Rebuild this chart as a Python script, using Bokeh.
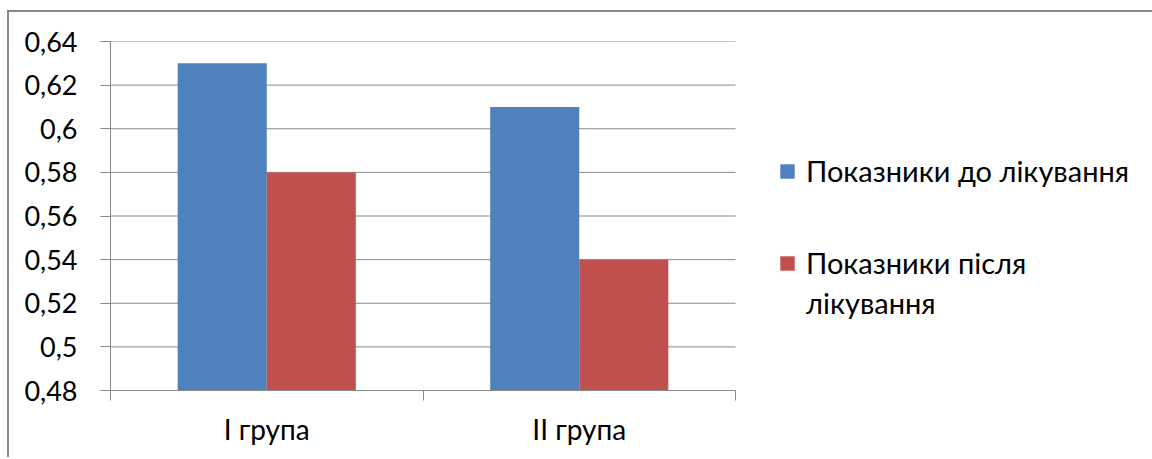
from bokeh.plotting import figure
from bokeh.models import (ColumnDataSource, FixedTicker, CustomJSTickFormatter,
                          Range1d, Legend, LegendItem)
from bokeh.embed import file_html
from bokeh.resources import INLINE

# --- data ---
categories = ["I група", "II група"]
before = [0.63, 0.61]
after = [0.58, 0.54]
series_names = ["Показники до лікування", "Показники після", "лікування"]
y_ticks = [0.48, 0.50, 0.52, 0.54, 0.56, 0.58, 0.60, 0.62, 0.64]
y_tick_labels = ["0,48", "0,5", "0,52", "0,54", "0,56", "0,58", "0,6", "0,62", "0,64"]

BLUE = "#4F81BD"
RED = "#C0504D"
GREY = "#898989"
FONT = "Lato"

# layout in pixels: bar area on the left, legend room on the right (inside the frame);
# the chart box runs past the right edge of the page
W, H = 1165, 447
LEFT, TOP, BOTTOM = 101, 29, 69
BARS_W = 625
FRAME_W = W - LEFT
n = len(categories)
x_end = n * FRAME_W / BARS_W

bar_w = 0.285
idx = list(range(n))
src = ColumnDataSource(dict(
    x_before=[i + 0.5 - bar_w / 2 for i in idx],
    x_after=[i + 0.5 + bar_w / 2 for i in idx],
    before=before,
    after=after,
))

p = figure(width=W, height=H, output_backend="svg", toolbar_location=None,
           x_range=Range1d(0, x_end), y_range=Range1d(y_ticks[0], y_ticks[-1]),
           min_border_left=LEFT, min_border_right=0, min_border_top=TOP, min_border_bottom=BOTTOM,
           margin=(10, 0, 0, 7),
           styles={"border-left": f"2px solid {GREY}", "border-top": f"2px solid {GREY}"})
p.outline_line_color = None
p.background_fill_color = "white"
p.border_fill_color = "white"

# horizontal gridlines, only across the bar area
p.segment(x0=[0] * len(y_ticks), x1=[n] * len(y_ticks), y0=y_ticks, y1=y_ticks,
          line_color=GREY, line_width=1, level="underlay")

r1 = p.vbar(x="x_before", top="before", bottom=y_ticks[0], width=bar_w, source=src,
            fill_color=BLUE, line_color=None)
r2 = p.vbar(x="x_after", top="after", bottom=y_ticks[0], width=bar_w, source=src,
            fill_color=RED, line_color=None)

# y axis: comma-decimal labels, outward ticks
p.yaxis.ticker = FixedTicker(ticks=y_ticks, minor_ticks=[])
p.yaxis.formatter = CustomJSTickFormatter(args=dict(tvals=y_ticks, labels=y_tick_labels), code="""
    let best = 0;
    for (let i = 0; i < tvals.length; i++) {
        if (Math.abs(tvals[i] - tick) < Math.abs(tvals[best] - tick)) best = i;
    }
    return labels[best];
""")
p.yaxis.major_tick_in = 0
p.yaxis.major_tick_out = 10
p.yaxis.major_tick_line_color = GREY
p.yaxis.axis_line_color = GREY
p.yaxis.major_label_text_font = FONT
p.yaxis.major_label_text_font_size = "27px"
p.yaxis.major_label_text_color = "black"
p.yaxis.major_label_standoff = 23

# x axis: labels centred on categories, ticks on category boundaries
p.xaxis.bounds = (0, n)
p.xaxis.ticker = FixedTicker(ticks=[i + 0.5 for i in idx],
                             minor_ticks=list(range(n + 1)))
p.xaxis.formatter = CustomJSTickFormatter(args=dict(cats=categories),
                                          code="return cats[Math.floor(tick)];")
p.xaxis.major_tick_in = 0
p.xaxis.major_tick_out = 0
p.xaxis.minor_tick_in = 0
p.xaxis.minor_tick_out = 10
p.xaxis.minor_tick_line_color = GREY
p.xaxis.axis_line_color = GREY
p.xaxis.major_label_text_font = FONT
p.xaxis.major_label_text_font_size = "28px"
p.xaxis.major_label_text_color = "black"
p.xaxis.major_label_standoff = 11

p.xgrid.grid_line_color = None
p.ygrid.grid_line_color = None


def make_legend(items, loc, spacing):
    lg = Legend(items=items, location=loc)
    lg.border_line_color = None
    lg.background_fill_alpha = 0
    lg.padding = 0
    lg.margin = 0
    lg.spacing = spacing
    lg.glyph_width = 18
    lg.glyph_height = 18
    lg.label_standoff = 10
    lg.label_height = 30
    lg.label_text_font = FONT
    lg.label_text_font_size = "29px"
    lg.label_text_color = "black"
    return lg


p.add_layout(make_legend([LegendItem(label=series_names[0], renderers=[r1])],
                         (668, 202), 0), "center")
p.add_layout(make_legend([LegendItem(label=series_names[1], renderers=[r2]),
                          LegendItem(label=series_names[2], renderers=[])],
                         (668, 70), 5), "center")

html = file_html(p, INLINE)
html = html.replace("<head>", "<head><style>html,body{margin:0;padding:0;overflow:hidden}</style>", 1)
open("out.html", "w").write(html)
